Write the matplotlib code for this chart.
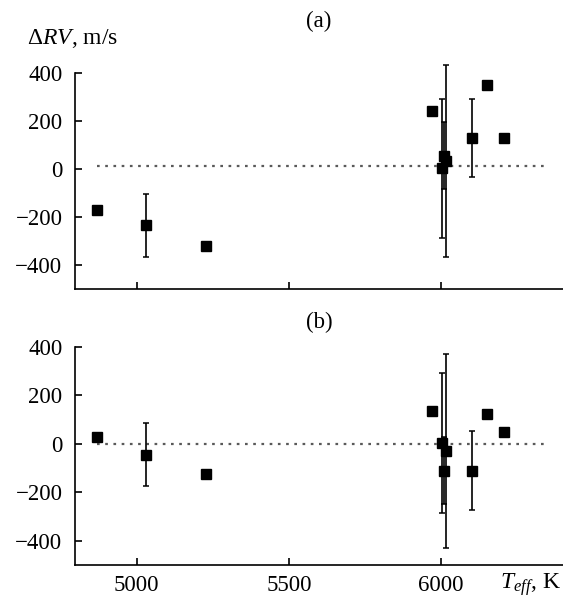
import numpy as np
import matplotlib
matplotlib.use("Agg")
import matplotlib.pyplot as plt

plt.rcParams["font.family"] = ["Liberation Serif", "DejaVu Serif"]
plt.rcParams["mathtext.fontset"] = "custom"
plt.rcParams["mathtext.rm"] = "Liberation Serif"
plt.rcParams["mathtext.it"] = "Liberation Serif:italic"

# Effective temperatures of the stars, K
teff = [4870, 5030, 5227, 5971, 6004, 6008, 6017, 6100, 6150, 6205]
# Radial-velocity residuals, m/s
drv_a = [-170, -235, -323, 240, 2, 55, 33, 129, 347, 129]
drv_b = [30, -45, -125, 137, 3, -110, -28, -110, 125, 48]
# Uncertainties, m/s (0 = no error bar shown)
err = [0, 130, 0, 0, 290, 138, 400, 162, 0, 0]

# Reference levels drawn as dotted lines
level_a = 12
level_b = 0
level_span = [4870, 6340]

xticks = [5000, 5500, 6000]
yticks = [-400, -200, 0, 200, 400]
ytick_labels = ["\u2212400", "\u2212200", "0", "200", "400"]

W, H = 563, 598
fig = plt.figure(figsize=(W / 100, H / 100), dpi=100)

left = 75 / W
right = 1.0
ax_a = fig.add_axes([left, 1 - 289 / H, right - left, (289 - 72.7) / H])
ax_b = fig.add_axes([left, 1 - 565 / H, right - left, (565 - 347) / H])

teff_arr = np.array(teff)
err_arr = np.array(err, dtype=float)
has_err = err_arr > 0

FS = 16.5

for ax, vals, lvl in [(ax_a, drv_a, level_a), (ax_b, drv_b, level_b)]:
    v = np.array(vals, dtype=float)
    ax.plot(level_span, [lvl, lvl], color="0.35", lw=1.6, ls=(0, (1.2, 2.5)), zorder=1)
    eb = ax.errorbar(teff_arr[has_err], v[has_err], yerr=err_arr[has_err], fmt="none",
                     ecolor="black", elinewidth=1.2, capsize=2.5, capthick=1.1, zorder=2)
    for art in eb.lines[1] + eb.lines[2]:
        art.set_clip_on(False)
    ax.plot(teff_arr, v, ls="none", marker="s", ms=7, color="black", zorder=3,
            clip_on=False)
    ax.set_xlim(4798, 6400)
    ax.set_ylim(-500, 400)
    ax.set_xticks(xticks)
    ax.set_yticks(yticks)
    ax.set_yticklabels(ytick_labels)
    for s in ["top", "right"]:
        ax.spines[s].set_visible(False)
    for s in ["left", "bottom"]:
        ax.spines[s].set_linewidth(1.2)
    ax.tick_params(direction="in", length=5, width=1.2, labelsize=FS)
    ax.tick_params(axis="y", pad=9)
    ax.tick_params(axis="x", pad=7)

ax_a.set_xticklabels([])

fig.text(319 / W, 1 - 21 / H, "(a)", fontsize=FS, ha="center", va="center")
fig.text(319 / W, 1 - 322 / H, "(b)", fontsize=FS, ha="center", va="center")
fig.text(27 / W, 1 - 38 / H, r"$\Delta RV$, m/s", fontsize=17, va="center", ha="left")
fig.text(1.0 - 2 / W, 1 - 585 / H, r"$T_{\mathit{eff}}$, K", fontsize=17,
         va="center", ha="right")

fig.savefig("out.png", dpi=100)
